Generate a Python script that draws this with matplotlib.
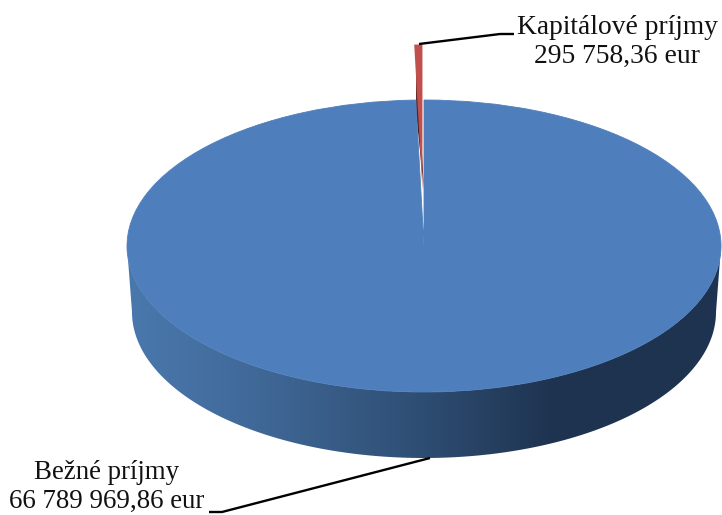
import numpy as np
import matplotlib
matplotlib.use("Agg")
import matplotlib.pyplot as plt
from matplotlib.colors import LinearSegmentedColormap
from matplotlib.patches import Polygon

labels = ["Bežné príjmy", "Kapitálové príjmy"]
values = [66789969.86, 295758.36]
colors = ["#4e7fbc", "#c0504d"]

W, H = 722, 515
CX, CY = 424, 246  # stred hornej elipsy v pixeloch
RX, RY = 297, 146


def px(x, y):
    # pixely obrazka -> data osi
    return (x - CX) / RX, (CY - y) / RY


def money(v):
    return f"{v:,.2f}".replace(",", " ").replace(".", ",") + " eur"


plt.rcParams["font.family"] = ["Liberation Serif", "DejaVu Serif"]

fig = plt.figure(figsize=(W / 100, H / 100), dpi=100)
ax = fig.add_axes([0, 0, 1, 1])

wedges, _ = ax.pie(values, colors=colors, startangle=90, counterclock=False,
                   explode=[0, 0.38], radius=1, wedgeprops={"linewidth": 0})
ax.set_aspect("auto")
ax.axis("off")
wedges[0].set_zorder(4)
wedges[1].set_zorder(5)
# tenky okraj zavrie spicu medzery ako v predlohe
wedges[0].set_edgecolor(colors[0])
wedges[0].set_linewidth(0.6)

# bocna stena kolaca - predna polovica medzi hornou a dolnou elipsou
t = np.linspace(np.pi, 2 * np.pi, 200)
top_edge = np.column_stack([CX + RX * np.cos(t), CY - RY * np.sin(t)])
bot_edge = np.column_stack([CX + 292 * np.cos(t), 312 - 146 * np.sin(t)])
wall_px = np.vstack([top_edge, bot_edge[::-1]])
wall = Polygon([px(x, y) for x, y in wall_px], closed=True, fc="none", ec="none",
               transform=ax.transData)
ax.add_patch(wall)
wall_cmap = LinearSegmentedColormap.from_list(
    "wall", [(0.0, "#4a78ad"), (0.2, "#416a9a"), (0.5, "#2e4d72"),
             (0.72, "#1e3350"), (1.0, "#1e3350")])
grad = np.linspace(0, 1, 400).reshape(1, -1)
im = ax.imshow(grad, cmap=wall_cmap, aspect="auto", zorder=2,
               extent=(-1, 1, px(0, 470)[1], px(0, 240)[1]))
im.set_clip_path(wall)

# tmava bocna plocha vysunuteho dielika
rim_left = px(416, 44)
apex = px(424, 190)
low = px(416, 112)
face = Polygon([rim_left, apex, low], closed=True, fc="none", ec="none", transform=ax.transData)
ax.add_patch(face)
face_cmap = LinearSegmentedColormap.from_list("face", ["#2a1716", "#4a2120", "#a84644"])
im2 = ax.imshow(np.linspace(0, 1, 100).reshape(-1, 1), cmap=face_cmap, aspect="auto", zorder=3,
                extent=(px(414, 0)[0], px(426, 0)[0], apex[1], rim_left[1]), origin="lower")
im2.set_clip_path(face)

ax.set_xlim(px(0, 0)[0], px(W, 0)[0])
ax.set_ylim(px(0, H)[1], px(0, 0)[1])

# odkazove ciary
line_top = [px(419, 44), px(500, 34), px(514, 34)]
line_bot = [px(430, 458), px(222, 512), px(209, 512)]
for pts in (line_top, line_bot):
    xs, ys = zip(*pts)
    ax.plot(xs, ys, color="black", lw=1.7, zorder=6, solid_capstyle="butt")

x1, y1 = px(617, 42)
ax.text(x1, y1, f"{labels[1]}\n{money(values[1])}", ha="center", va="center",
        fontsize=19.8, linespacing=1.25, color="#111111", zorder=7)
x0, y0 = px(107, 487)
ax.text(x0, y0, f"{labels[0]}\n{money(values[0])}", ha="center", va="center",
        fontsize=19.4, linespacing=1.16, color="#111111", zorder=7)

fig.savefig("out.png", dpi=100)
